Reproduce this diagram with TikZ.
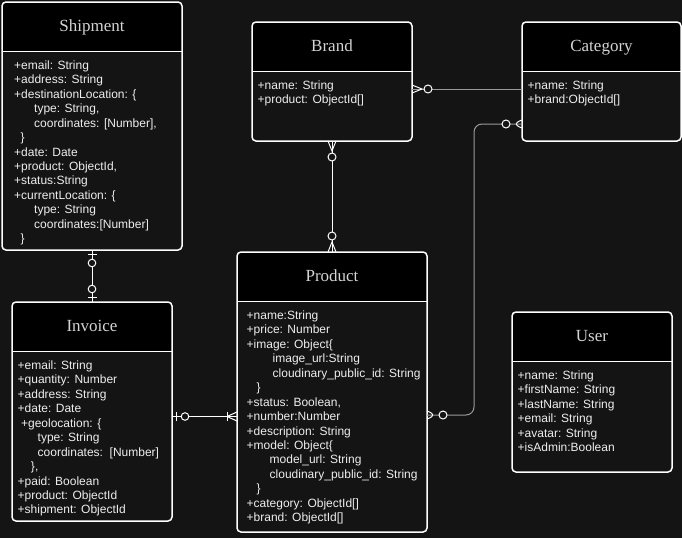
\documentclass[tikz,border=0pt]{standalone}
\usepackage{fontspec}
\setmainfont{Liberation Serif}
\setsansfont{Liberation Sans}
\usepackage{tikz}
\usetikzlibrary{decorations.markings}
\usepackage{color}

\definecolor{bgcol}{HTML}{141414}
\definecolor{headcol}{HTML}{000000}
\definecolor{titlecol}{HTML}{D4D4D4}
\definecolor{textcol}{HTML}{EEEEEE}
\definecolor{dimcol}{HTML}{9A9A9A}

\tikzset{
  entity/.style={draw=white, line width=1.5pt, rounded corners=4pt, fill=bgcol,
    anchor=north west, inner sep=0pt, outer sep=0pt,
    path picture={
      \fill[headcol, sharp corners] (path picture bounding box.north west)
        rectangle ([yshift=-\headh pt]path picture bounding box.north east);
      \draw[white, line width=1.5pt, sharp corners]
        ([yshift=-\headh pt]path picture bounding box.north west)
        -- ([yshift=-\headh pt]path picture bounding box.north east);}},
  title/.style={anchor=base, inner sep=0pt, text=titlecol,
    font=\rmfamily\fontsize{17}{20}\selectfont},
  attrs/.style={anchor=north west, inner sep=0pt, align=left, text=textcol,
    font=\sffamily\fontsize{12}{14.45}\selectfont},
  rel/.style={draw=white, line width=1pt},
  dimrel/.style={draw=dimcol, line width=1pt},
  crow/.style={draw=white, line width=1pt},
  % zero or many
  zmany start/.style={postaction={decorate, decoration={markings,
    mark=at position 0 with {
      \draw[crow] (0pt,4pt) -- (10pt,0pt) -- (0pt,-4pt);
      \draw[crow, fill=bgcol] (16pt,0pt) circle (4pt);}}}},
  zmany end/.style={postaction={decorate, decoration={markings,
    mark=at position 1 with {
      \draw[crow] (0pt,4pt) -- (-10pt,0pt) -- (0pt,-4pt);
      \draw[crow, fill=bgcol] (-16pt,0pt) circle (4pt);}}}},
  % zero or one
  zone start/.style={postaction={decorate, decoration={markings,
    mark=at position 0 with {
      \draw[crow] (4.5pt,4.5pt) -- (4.5pt,-4.5pt);
      \draw[crow, fill=bgcol] (13pt,0pt) circle (3.8pt);}}}},
  zone end/.style={postaction={decorate, decoration={markings,
    mark=at position 1 with {
      \draw[crow] (-4.5pt,4.5pt) -- (-4.5pt,-4.5pt);
      \draw[crow, fill=bgcol] (-13pt,0pt) circle (3.8pt);}}}},
  % one or many
  omany end/.style={postaction={decorate, decoration={markings,
    mark=at position 1 with {
      \draw[crow] (0pt,4.5pt) -- (-10pt,0pt) -- (0pt,-4.5pt);
      \draw[crow] (-10pt,4.5pt) -- (-10pt,-4.5pt);}}}},
}

\begin{document}
\begin{tikzpicture}[x=1pt, y=-1pt]
                   % Sizes
                   \pgfmathsetmacro{\headh}{49.5}
                   \pgfmathsetmacro{\titledrop}{29}
                   \pgfmathsetmacro{\textdrop}{58.5}
                   \path[use as bounding box, fill=bgcol] (0,0) rectangle (682,538);

                   % entities
                   \node[entity, minimum width=180pt, minimum height=248pt] (shipment) at (2,2) {};
                   \node[entity, minimum width=160pt, minimum height=119pt] (brand) at (252,22) {};
                   \node[entity, minimum width=159pt, minimum height=119pt] (category) at (522,22) {};
                   \node[entity, minimum width=190pt, minimum height=280pt] (product) at (237,252) {};
                   \node[entity, minimum width=160pt, minimum height=219pt] (invoice) at (12,302) {};
                   \node[entity, minimum width=160pt, minimum height=160pt] (user) at (512,312) {};

                   % titles
                   \node[title] (shipmenttitle) at ([yshift=-\titledrop pt]shipment.north) {Shipment};
                   \node[title] (brandtitle) at ([yshift=-\titledrop pt]brand.north) {Brand};
                   \node[title] (categorytitle) at ([yshift=-\titledrop pt]category.north) {Category};
                   \node[title] (producttitle) at ([yshift=-\titledrop pt]product.north) {Product};
                   \node[title] (invoicetitle) at ([yshift=-\titledrop pt]invoice.north) {Invoice};
                   \node[title] (usertitle) at ([yshift=-\titledrop pt]user.north) {User};

                   % fields
                   \node[attrs] (shipmentattrs) at ([xshift=12pt, yshift=-\textdrop pt]shipment.north west) {
                     +email: String\\
                     +address: String\\
                     +destinationLocation: \{\\
                     \hspace*{20pt}type: String,\\
                     \hspace*{20pt}coordinates: [Number],\\
                     \hspace*{6.5pt}\}\\
                     +date: Date\\
                     +product: ObjectId,\\
                     +status:String\\
                     +currentLocation: \{\\
                     \hspace*{20pt}type: String\\
                     \hspace*{20pt}coordinates:[Number]\\
                     \hspace*{6.5pt}\}};
                   \node[attrs] (brandattrs) at ([xshift=5.5pt, yshift=-\textdrop pt]brand.north west) {
                     +name: String\\
                     +product: ObjectId[]};
                   \node[attrs] (categoryattrs) at ([xshift=5.5pt, yshift=-\textdrop pt]category.north west) {
                     +name: String\\
                     +brand:ObjectId[]};
                   \node[attrs] (productattrs) at ([xshift=9.5pt, yshift=-\textdrop pt]product.north west) {
                     +name:String\\
                     +price: Number\\
                     +image: Object\{\\
                     \hspace*{26pt}image\_url:String\\
                     \hspace*{26pt}cloudinary\_public\_id: String\\
                     \hspace*{10pt}\}\\
                     +status: Boolean,\\
                     +number:Number\\
                     +description: String\\
                     +model: Object\{\\
                     \hspace*{23pt}model\_url: String\\
                     \hspace*{23pt}cloudinary\_public\_id: String\\
                     \hspace*{10pt}\}\\
                     +category: ObjectId[]\\
                     +brand: ObjectId[]};
                   \node[attrs] (invoiceattrs) at ([xshift=5.5pt, yshift=-\textdrop pt]invoice.north west) {
                     +email: String\\
                     +quantity: Number\\
                     +address: String\\
                     +date: Date\\
                     \hspace*{3.4pt}+geolocation: \{\\
                     \hspace*{20pt}type: String\\
                     \hspace*{20pt}coordinates:\ \ [Number]\\
                     \hspace*{13.3pt}\},\\
                     +paid: Boolean\\
                     +product: ObjectId\\
                     +shipment: ObjectId};
                   \node[attrs] (userattrs) at ([xshift=5.5pt, yshift=-\textdrop pt]user.north west) {
                     +name: String\\
                     +firstName: String\\
                     +lastName: String\\
                     +email: String\\
                     +avatar: String\\
                     +isAdmin:Boolean};

                   % draw diagram
                   \draw[rel, zone start, zone end] (shipment.south) -- (invoice.north);
                   \draw[rel, zmany start, zmany end] (brand.south) -- (product.north);
                   \draw[dimrel, zmany start] ([yshift=-7.5pt]brand.east) -- ([yshift=-7.5pt]category.west);
                   \draw[dimrel, rounded corners=8pt, zmany start, zmany end] ([yshift=-42.5pt]category.west)
                     -| ([xshift=47pt, yshift=-23pt]product.east) -- ([yshift=-23pt]product.east);
                   \draw[rel, zone start, omany end] ([yshift=-5pt]invoice.east) coordinate (ip) -- (ip -| product.west);
\end{tikzpicture}
\end{document}
